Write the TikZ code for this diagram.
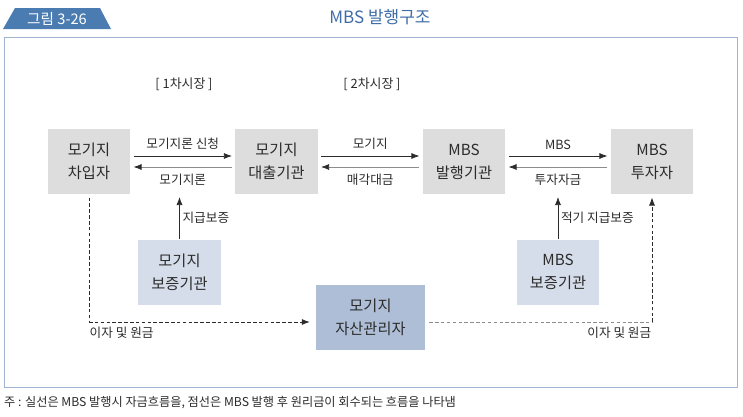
\documentclass[tikz,border=0pt]{standalone}
\usepackage{fontspec}
\setmainfont{Noto Sans CJK KR}
\usetikzlibrary{arrows.meta}
\definecolor{boxgray}{HTML}{DDDDDD}
\definecolor{boxpale}{HTML}{D6DDEA}
\definecolor{boxblue}{HTML}{AFBED7}
\definecolor{tabblue}{HTML}{4A7CB2}
\definecolor{titleblue}{HTML}{3E6DA6}
\definecolor{framecol}{HTML}{A0B4D0}
\definecolor{txt}{HTML}{2B2B2B}
\definecolor{linegray}{HTML}{8C8C8C}
\begin{document}
\begin{tikzpicture}[x=0.03cm,y=-0.03cm]
\tikzstyle{party} = [fill=boxgray, text=txt, align=center, minimum width=2.46cm, minimum height=1.95cm, font=\fontsize{13}{19.5}\selectfont];
\tikzstyle{guard} = [party, fill=boxpale];
\tikzstyle{manager} = [party, fill=boxblue, minimum width=3.27cm];
\tikzstyle{lbl} = [text=txt, font=\fontsize{10.8}{12}\selectfont];
\tikzstyle{arr} = [line width=0.6pt, draw=txt, -{Latex[length=2.4mm,width=1.8mm]}, shorten <=1mm, shorten >=1mm];
\tikzstyle{back} = [arr, draw=linegray, -{Latex[length=2.4mm,width=1.8mm,color=txt]}];
\tikzstyle{dsh} = [line width=0.6pt, draw=txt, dash pattern=on 3pt off 2pt];
\tikzstyle{dshgray} = [dsh, draw=linegray];
\useasboundingbox (0,0) rectangle (743,417);

% header and frame
\fill[tabblue] (3,29) -- (15,8) -- (100,8) -- (111,29) -- cycle;
\node [text=white, font=\fontsize{12.5}{14}\selectfont] (tab) at (57,18.5) {그림 3-26};
\node [text=titleblue, font=\fontsize{14.5}{16}\selectfont] (title) at (380,17) {MBS 발행구조};
\draw [framecol, line width=0.8pt] (4,37) rectangle (737,387);

\node [lbl, font=\fontsize{11}{12}\selectfont] (m1) at (184,84) {[ 1차시장 ]};
\node [lbl, font=\fontsize{11}{12}\selectfont] (m2) at (372,84) {[ 2차시장 ]};

% boxes
\node [party] (v1) at (89,161.5) {모기지\\차입자};
\node [party] (v2) at (276.5,161.5) {모기지\\대출기관};
\node [party] (v3) at (464,161.5) {MBS\\발행기관};
\node [party] (v4) at (652,161.5) {MBS\\투자자};
\node [guard] (v5) at (179.5,272) {모기지\\보증기관};
\node [guard] (v6) at (558,272) {MBS\\보증기관};
\node [manager] (v7) at (370.5,317.5) {모기지\\자산관리자};

% money flows
\draw [arr] ([yshift=1.65mm]v1.east) -- node[lbl, above=2pt] {모기지론 신청} ([yshift=1.65mm]v2.west);
\draw [back] ([yshift=-1.65mm]v2.west) -- node[lbl, below=2pt] {모기지론} ([yshift=-1.65mm]v1.east);
\draw [arr] ([yshift=1.65mm]v2.east) -- node[lbl, above=2pt] {모기지} ([yshift=1.65mm]v3.west);
\draw [back] ([yshift=-1.65mm]v3.west) -- node[lbl, below=2pt] {매각대금} ([yshift=-1.65mm]v2.east);
\draw [arr] ([yshift=1.65mm]v3.east) -- node[lbl, above=2pt] {MBS} ([yshift=1.65mm]v4.west);
\draw [back] ([yshift=-1.65mm]v4.west) -- node[lbl, below=2pt] {투자자금} ([yshift=-1.65mm]v3.east);

% guarantees
\coordinate (g1) at (179.5,197);
\coordinate (g2) at (558,197);
\draw [arr, shorten <=0mm, shorten >=0mm] (v5) -- node[lbl, right, xshift=-1pt] {지급보증} (g1);
\draw [arr, shorten <=0mm, shorten >=0mm] (v6) -- node[lbl, right, xshift=-1pt] {적기 지급보증} (g2);

% repayment flows
\coordinate (c1) at (89,322);
\coordinate (c2) at (652,322);
\draw [dsh] ([yshift=-1mm]v1.south) -- (c1);
\draw [dsh, -{Latex[length=2.4mm,width=1.8mm]}, shorten >=1.8mm] (c1) -- node[lbl, pos=0, anchor=north west, yshift=-1pt, xshift=-3pt] {이자 및 원금} (v7.west |- c1);
\draw [dshgray] ([xshift=1.2mm]v7.east |- c2) -- (c2);
\draw [dsh, -{Latex[length=2.4mm,width=1.8mm]}, shorten >=1mm] (c2) -- node[lbl, pos=0, anchor=north east, yshift=-1pt, xshift=3pt] {이자 및 원금} (v4);

\node [lbl, anchor=west, font=\fontsize{10.4}{12}\selectfont] (note) at (0,403) {주 : 실선은 MBS 발행시 자금흐름을, 점선은 MBS 발행 후 원리금이 회수되는 흐름을 나타냄};
\end{tikzpicture}
\end{document}
